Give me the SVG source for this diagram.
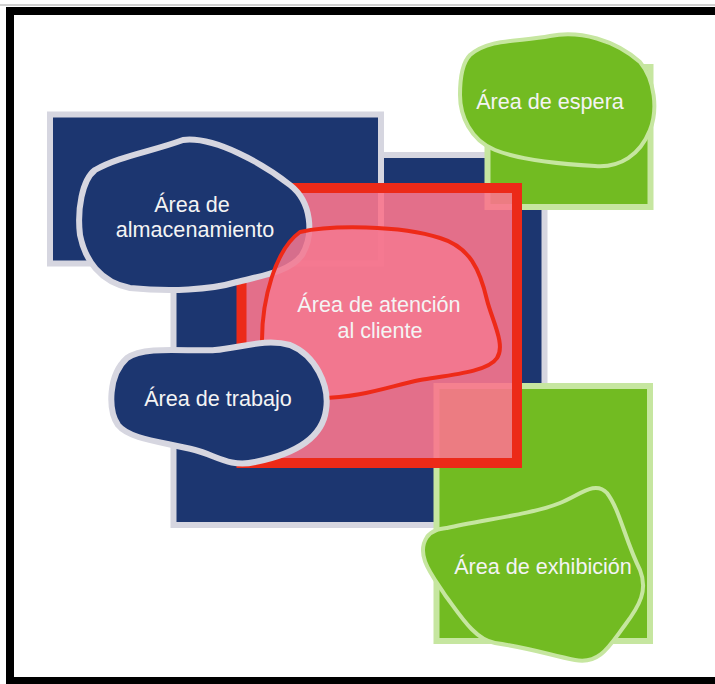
<svg xmlns="http://www.w3.org/2000/svg" width="715" height="684" viewBox="0 0 715 684">
<style>
.blue{fill:#1c3670;stroke:#d6d6e0;stroke-width:6}
.green{fill:#72bb22;stroke:#c6e6a0;stroke-width:6}
.bblob{fill:#1c3670;stroke:#d6d6e0;stroke-width:6;stroke-linejoin:round}
.gblob{fill:#72bb22;stroke:#c6e6a0;stroke-width:4;stroke-linejoin:round}
.lbl{font-family:"Liberation Sans",Arial,sans-serif;font-size:21.6px;fill:#f4f4f4;text-anchor:middle}
</style>
<rect x="0" y="0" width="715" height="684" fill="#ffffff"/>
<rect x="0" y="4" width="715" height="2" fill="#d0d0d0"/>
<rect x="6" y="7" width="720" height="680" fill="#000000"/>
<rect x="14" y="15" width="720" height="662" fill="#ffffff"/>
<g id="zone-work-rect"><rect class="blue" x="173.5" y="155" width="371" height="370"/></g>
<g id="zone-storage-rect"><rect class="blue" x="50" y="114.5" width="331" height="149"/></g>
<g id="zone-waiting-rect"><rect class="green" x="487.5" y="67" width="163" height="140"/></g>
<g id="zone-exhibit-rect"><rect class="green" x="436.5" y="386" width="213.5" height="255"/></g>
<g id="zone-attention-rect"><rect x="241.5" y="188" width="275.5" height="275" fill="#fa768d" fill-opacity="0.9" stroke="#ec2a18" stroke-width="10"/></g>
<g id="storage">
<path class="bblob" d="M183,140 C215,136 265,165 290,185 C312,202 314,235 302,255 C290,272 260,276 237,282 C210,290 170,292 130,288 C100,282 85,260 80,235 C77,210 82,180 95,170 C120,156 150,152 183,140 Z"/>
<text class="lbl" x="192" y="212">Área de</text>
<text class="lbl" x="195" y="237">almacenamiento</text>
</g>
<g id="attention">
<path d="M300,232 C330,225 400,225 440,238 C470,247 480,270 487,300 C492,320 506,345 497,358 C488,372 450,375 420,380 C390,386 360,398 320,398 C290,398 265,380 262,340 C262,300 275,250 300,232 Z" fill="#f47890" fill-opacity="0.86" stroke="#ee2a18" stroke-width="4"/>
<text class="lbl" x="379" y="312">Área de atención</text>
<text class="lbl" x="380" y="338">al cliente</text>
</g>
<g id="work">
<path class="bblob" d="M127,358 C145,345 190,352 215,350 C240,348 265,338 290,345 C315,355 330,385 326,410 C322,440 290,455 255,462 C230,468 215,455 195,450 C165,442 130,440 118,425 C108,410 108,375 127,358 Z"/>
<text class="lbl" x="218" y="406">Área de trabajo</text>
</g>
<g id="waiting">
<path class="gblob" d="M470,55 C490,38 520,42 550,36 C580,30 615,40 640,62 C655,80 658,110 650,130 C640,155 620,168 595,166 C560,164 520,160 495,150 C470,140 460,115 460,95 C460,75 463,62 470,55 Z"/>
<text class="lbl" x="550" y="109">Área de espera</text>
</g>
<g id="exhibit">
<path class="gblob" d="M447,528 C480,520 530,515 560,503 C580,495 595,480 607,493 C620,510 625,540 640,570 C648,590 640,605 625,625 C610,645 600,665 575,660 C550,655 530,648 495,643 C475,640 460,615 445,595 C432,575 415,555 427,537 C432,530 440,529 447,528 Z"/>
<text class="lbl" x="543" y="574">Área de exhibición</text>
</g>
<g id="connectors"/>
</svg>
